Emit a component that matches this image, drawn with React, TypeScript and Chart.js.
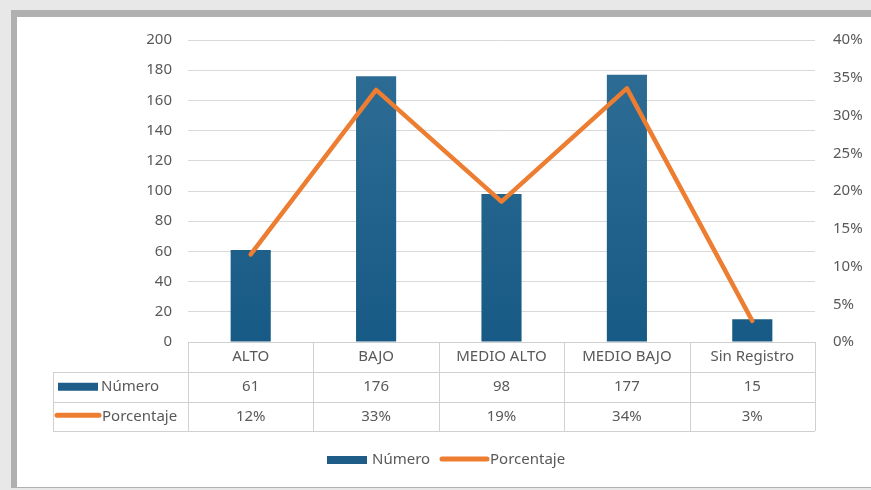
import React, { useEffect, useRef } from "react";
import { Chart, registerables } from "chart.js";

Chart.register(...registerables);

const categories = ["ALTO", "BAJO", "MEDIO ALTO", "MEDIO BAJO", "Sin Registro"];
const numeroLabel = "Número";
const porcentajeLabel = "Porcentaje";
const numero = [61, 176, 98, 177, 15];
const porcentaje = [11.6, 33.4, 18.6, 33.6, 2.8];

const BLUE_TOP = "#2f6e96";
const BLUE_BOTTOM = "#175a85";
const BLUE = "#1d5d87";
const ORANGE = "#ed7d31";
const TEXT = "#595959";
const GRID = "#d9d9d9";
const TABLE_LINE = "#d0d0d0";
const FONT = "'Noto Sans', sans-serif";

const tablePlugin = {
  id: "dataTable",
  afterDraw(chart: any) {
    const ctx = chart.ctx as CanvasRenderingContext2D;
    const area = chart.chartArea;
    const n = categories.length;
    const colW = (area.right - area.left) / n;
    const labelLeft = 53;
    const r0 = area.bottom;
    const r1 = r0 + 30;
    const r2 = r1 + 29.5;
    const r3 = r2 + 29.5;
    const px = (v: number) => Math.round(v) + 0.5;

    ctx.save();
    ctx.strokeStyle = TABLE_LINE;
    ctx.lineWidth = 1;
    ctx.beginPath();
    ctx.moveTo(area.left, px(r0));
    ctx.lineTo(area.right, px(r0));
    for (const y of [r1, r2, r3]) {
      ctx.moveTo(labelLeft, px(y));
      ctx.lineTo(area.right, px(y));
    }
    for (let i = 0; i <= n; i++) {
      const x = px(area.left + i * colW);
      ctx.moveTo(x, r0);
      ctx.lineTo(x, r3);
    }
    ctx.moveTo(px(labelLeft), r1);
    ctx.lineTo(px(labelLeft), r3);
    ctx.stroke();

    ctx.fillStyle = TEXT;
    ctx.font = `15px ${FONT}`;
    ctx.textAlign = "center";
    ctx.textBaseline = "middle";
    const xs = chart.scales.x;
    for (let i = 0; i < n; i++) {
      const cx = xs.getPixelForValue(i);
      ctx.fillText(categories[i], cx, (r0 + r1) / 2);
      ctx.fillText(String(numero[i]), cx, (r1 + r2) / 2);
      ctx.fillText(Math.round(porcentaje[i]) + "%", cx, (r2 + r3) / 2);
    }

    // row headers
    const y1 = (r1 + r2) / 2;
    const y2 = (r2 + r3) / 2;
    ctx.fillStyle = BLUE;
    ctx.fillRect(58, y1 - 4, 40, 8);
    ctx.strokeStyle = ORANGE;
    ctx.lineWidth = 5;
    ctx.lineCap = "round";
    ctx.beginPath();
    ctx.moveTo(57, y2 - 1);
    ctx.lineTo(99, y2 - 1);
    ctx.stroke();
    ctx.fillStyle = TEXT;
    ctx.textAlign = "left";
    ctx.fillText(numeroLabel, 101, y1);
    ctx.fillText(porcentajeLabel, 102, y2);

    // legend
    const ly = 460;
    ctx.fillStyle = BLUE;
    ctx.fillRect(327, ly - 4, 40, 8);
    ctx.fillStyle = TEXT;
    ctx.fillText(numeroLabel, 372, ly);
    ctx.beginPath();
    ctx.moveTo(442, ly - 1);
    ctx.lineTo(487, ly - 1);
    ctx.stroke();
    ctx.fillText(porcentajeLabel, 490, ly);
    ctx.restore();
  },
};

export default function App() {
  const ref = useRef<HTMLCanvasElement | null>(null);

  useEffect(() => {
    if (!ref.current) return;
    const chart = new Chart(ref.current, {
      type: "bar",
      data: {
        labels: categories,
        datasets: [
          {
            type: "line",
            label: porcentajeLabel,
            data: porcentaje,
            yAxisID: "y1",
            borderColor: ORANGE,
            backgroundColor: ORANGE,
            borderWidth: 4.5,
            pointRadius: 0,
            tension: 0,
            borderJoinStyle: "round",
            borderCapStyle: "round",
            order: 0,
          } as any,
          {
            type: "bar",
            label: numeroLabel,
            data: numero,
            yAxisID: "y",
            backgroundColor: (c: any) => {
              const a = c.chart.chartArea;
              if (!a) return BLUE;
              const g = c.chart.ctx.createLinearGradient(0, a.top, 0, a.bottom);
              g.addColorStop(0, BLUE_TOP);
              g.addColorStop(1, BLUE_BOTTOM);
              return g;
            },
            categoryPercentage: 1,
            barPercentage: 0.32,
            order: 1,
          },
        ],
      },
      options: {
        responsive: false,
        animation: false,
        devicePixelRatio: 1,
        layout: { padding: { left: 0, right: 0, top: 40, bottom: 148 } },
        plugins: { legend: { display: false }, tooltip: { enabled: false } },
        scales: {
          x: { display: false },
          y: {
            position: "left",
            min: 0,
            max: 200,
            border: { display: false },
            grid: { color: GRID, drawTicks: false },
            ticks: { stepSize: 20, padding: 16, color: TEXT, font: { family: FONT, size: 15 } },
            afterFit: (s: any) => {
              s.width = 188;
            },
          },
          y1: {
            position: "right",
            min: 0,
            max: 40,
            border: { display: false },
            grid: { display: false, drawTicks: false },
            ticks: {
              stepSize: 5,
              padding: 18,
              color: TEXT,
              font: { family: FONT, size: 15 },
              callback: (v: any) => v + "%",
            },
            afterFit: (s: any) => {
              s.width = 56;
            },
          },
        },
      },
      plugins: [tablePlugin],
    });
    return () => chart.destroy();
  }, []);

  return (
    <div style={{ position: "absolute", left: 0, top: 0, width: 871, height: 490, background: "#e8e8e8", overflow: "hidden" }}>
      <div style={{ position: "absolute", left: 11, top: 10, right: 0, bottom: 2, background: "#b0b0b0" }} />
      <div style={{ position: "absolute", left: 17, top: 17, right: 0, bottom: 3, background: "#ffffff" }} />
      <canvas ref={ref} width={871} height={490} style={{ position: "absolute", left: 0, top: 0, display: "block" }} />
    </div>
  );
}
